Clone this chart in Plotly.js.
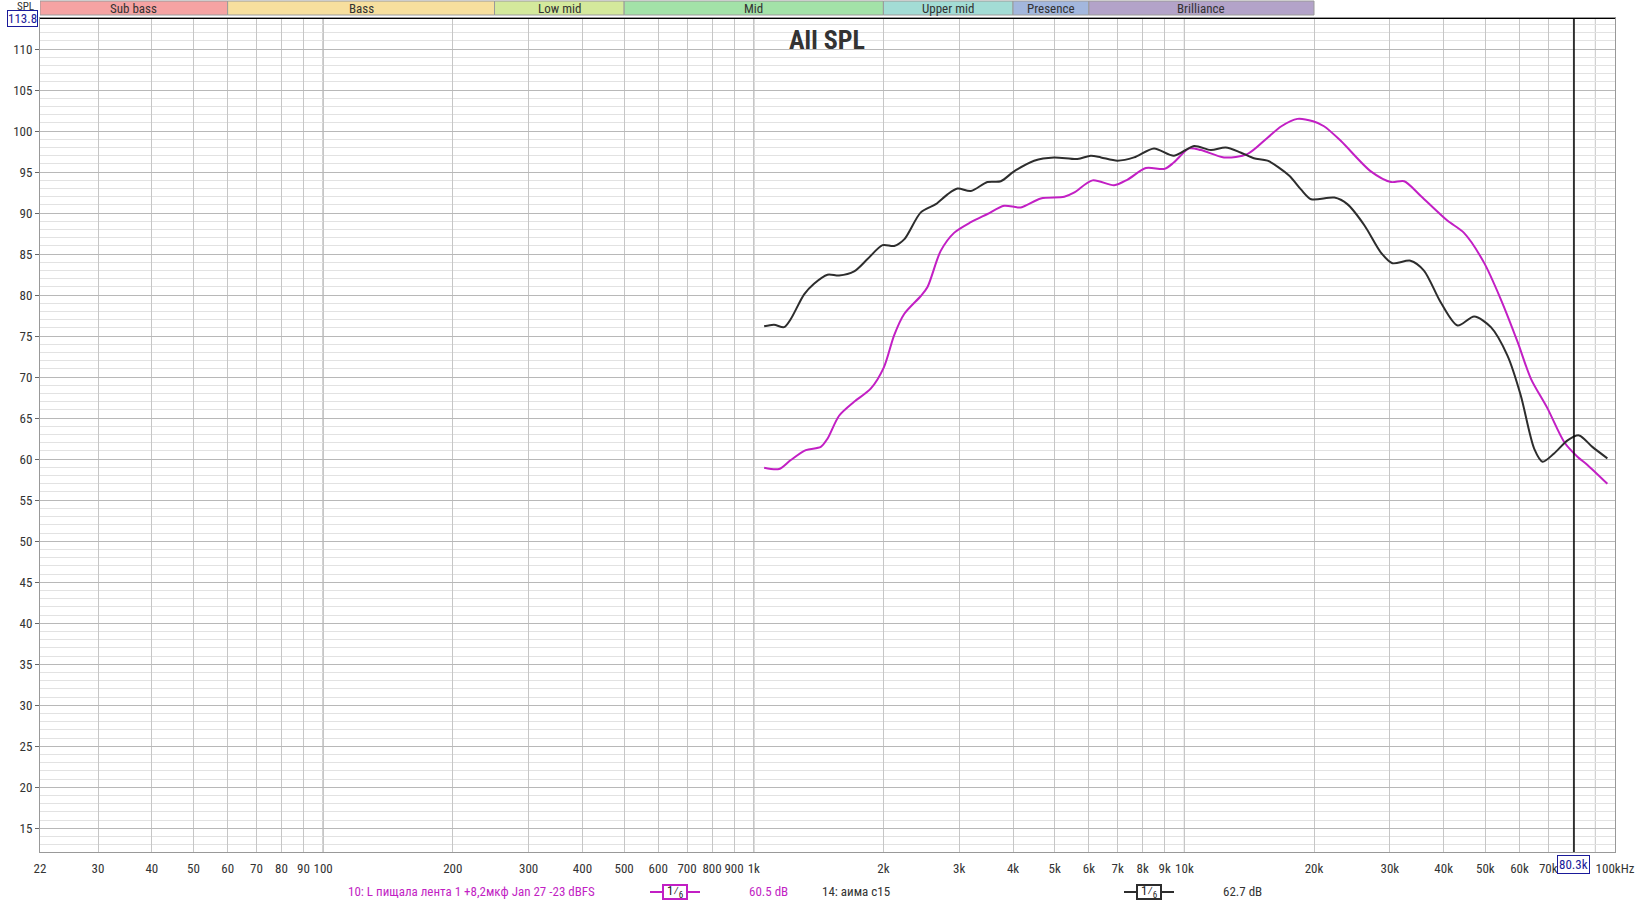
<!DOCTYPE html>
<html><head><meta charset="utf-8">
<script src="https://cdn.plot.ly/plotly-3.0.1.min.js"></script>
<style>html,body{margin:0;padding:0;background:#fff;} #chart{width:1635px;height:903px;}</style>
</head><body><div id="chart"></div>
<script>
// ---- data ----
const freqBlack = [1057,1114,1176,1219,1309,1380,1483,1578,1710,1837,1991,2118,2235,2443,2647,2818,2973,3192,3489,3747,4023,4477,4980,5645,6060,6400,6990,7640,8500,9460,10530,11520,12470,13500,14500,15600,17500,18650,19700,22300,23900,26200,28600,30400,33500,36000,39400,43100,47100,51500,56300,60400,64900,67900,72200,77600,82500,88600,96000];
const splBlack = [76.2,76.4,76.1,77.1,80.1,81.4,82.5,82.4,82.9,84.4,86.1,86.0,86.8,90.1,91.1,92.3,93.0,92.7,93.8,93.9,95.1,96.4,96.8,96.6,97.0,96.8,96.4,96.8,97.9,97.0,98.2,97.7,98.0,97.4,96.7,96.4,94.6,92.9,91.7,91.9,91.1,88.5,85.2,83.9,84.2,83.0,79.1,76.3,77.4,76.1,72.6,67.8,61.3,59.7,60.7,62.3,62.9,61.5,60.1];
const freqMagenta = [1057,1145,1219,1321,1431,1483,1578,1710,1869,2005,2118,2235,2443,2532,2717,2918,3192,3489,3813,4170,4640,5260,5540,6120,6870,7380,8140,9000,9460,10260,10920,12360,14000,15600,16800,18300,19900,21100,23100,27100,30200,32400,35400,40800,44600,49600,54300,59400,63800,69700,76200,81800,86300,96000];
const splMagenta = [58.95,58.8,59.9,61.1,61.5,62.5,65.3,67.0,68.6,71.2,75.1,77.7,79.9,81.0,85.4,87.6,88.9,89.9,90.9,90.7,91.8,92.0,92.5,94.0,93.4,94.1,95.5,95.4,96.2,97.9,97.7,96.8,97.2,99.2,100.6,101.5,101.2,100.6,98.8,95.1,93.8,93.9,92.1,89.1,87.6,84.0,79.5,74.3,69.8,66.2,62.1,60.3,59.3,57.0];
const bandNames = ['Sub bass','Bass','Low mid','Mid','Upper mid','Presence','Brilliance'];
const bandEdges = [22,60,250,500,2000,4000,6000,20000];
const bandColors = ['#f5a3a3','#f7df9e','#d4e99c','#a3e2a8','#a3dcd5','#a3b7dd','#b3a3c9'];
const xTickVals = [22,30,40,50,60,70,80,90,100,200,300,400,500,600,700,800,900,1000,2000,3000,4000,5000,6000,7000,8000,9000,10000,20000,30000,40000,50000,60000,70000,100000];
const xTickText = ['22','30','40','50','60','70','80','90','100','200','300','400','500','600','700','800','900','1k','2k','3k','4k','5k','6k','7k','8k','9k','10k','20k','30k','40k','50k','60k','70k','100kHz'];
const xGridOnly = [80000,90000];
const yTickVals = [15,20,25,30,35,40,45,50,55,60,65,70,75,80,85,90,95,100,105,110];
const decadeLines = [100,1000,10000];
const cursorFreq = 80300;
const cursorFreqLabel = '80.3k';
const cursorSPL = 113.8;
const cursorSPLLabel = '113.8';
const nameMagenta = '10: L пищала лента 1 +8,2мкф Jan 27 -23 dBFS';
const valueMagenta = '60.5 dB';
const nameBlack = '14: аима с15';
const valueBlack = '62.7 dB';
const smoothingLabel = '1⁄<sub>6</sub>';

// ---- layout helpers (pixels -> paper) ----
const W = 1635, H = 903;
const L = 40, R = 20, T = 18, B = 51;
const pw = W - L - R, ph = H - T - B;
const px = x => (x - L) / pw;
const py = y => 1 - (y - T) / ph;

const FONT = 'Liberation Sans Narrow, Roboto Condensed, DejaVu Sans Condensed, Roboto, sans-serif';
const MAG = '#c21fc4';
const BLK = '#2d2d2d';

const traces = [
  {x: freqMagenta, y: splMagenta, type: 'scatter', mode: 'lines', line: {color: MAG, width: 2, shape: 'spline', smoothing: 0.8}, hoverinfo: 'x+y'},
  {x: freqBlack, y: splBlack, type: 'scatter', mode: 'lines', line: {color: BLK, width: 2, shape: 'spline', smoothing: 0.8}, hoverinfo: 'x+y'}
];

const shapes = [];
const annotations = [];

// band bar
for (let i = 0; i < bandNames.length; i++) {
  shapes.push({type: 'rect', xref: 'x', yref: 'paper', x0: bandEdges[i], x1: bandEdges[i+1], y0: py(15), y1: py(1),
    fillcolor: bandColors[i], line: {color: '#9a9a9a', width: 1}, layer: 'above'});
  annotations.push({xref: 'x', yref: 'paper', x: Math.log10(Math.sqrt(bandEdges[i]*bandEdges[i+1])), y: py(8.5),
    text: bandNames[i], showarrow: false, xanchor: 'center', yanchor: 'middle', font: {family: FONT, size: 13, color: '#333'}});
}
// grid-only lines (no label)
xGridOnly.forEach(f => shapes.push({type: 'line', xref: 'x', yref: 'paper', x0: f, x1: f, y0: 0, y1: 1, line: {color: '#c6c6c6', width: 1}, layer: 'below'}));
// decade lines
decadeLines.forEach(f => shapes.push({type: 'line', xref: 'x', yref: 'paper', x0: f, x1: f, y0: 0, y1: 1, line: {color: '#7a7a7a', width: 1}, layer: 'below'}));
// cursor lines
shapes.push({type: 'line', xref: 'x', yref: 'paper', x0: cursorFreq, x1: cursorFreq, y0: 0, y1: 1, line: {color: '#000', width: 1.5}});
shapes.push({type: 'line', xref: 'paper', yref: 'y', x0: 0, x1: 1, y0: cursorSPL, y1: cursorSPL, line: {color: '#000', width: 2}});

// cursor labels
annotations.push({xref: 'x', yref: 'paper', x: Math.log10(cursorFreq), y: py(865), text: cursorFreqLabel, showarrow: false,
  xanchor: 'center', yanchor: 'middle', font: {family: FONT, size: 13, color: '#1a1a9a'}, bgcolor: '#fff', bordercolor: '#1a1a9a', borderwidth: 1, borderpad: 1});
annotations.push({xref: 'paper', yref: 'paper', x: px(38), y: py(18), text: cursorSPLLabel, showarrow: false,
  xanchor: 'right', yanchor: 'middle', font: {family: FONT, size: 13, color: '#1a1a9a'}, bgcolor: '#fff', bordercolor: '#1a1a9a', borderwidth: 1, borderpad: 0});
annotations.push({xref: 'paper', yref: 'paper', x: px(36), y: py(6), text: 'SPL', showarrow: false,
  xanchor: 'right', yanchor: 'middle', font: {family: FONT, size: 11, color: '#333'}});

// legend row
const LY = 892;
function legendText(x, text, color, anchor) {
  annotations.push({xref: 'paper', yref: 'paper', x: px(x), y: py(LY), text: text, showarrow: false,
    xanchor: anchor || 'left', yanchor: 'middle', font: {family: FONT, size: 13, color: color}});
}
function smoothBox(x0, x1, color) {
  const mid = (x0 + x1) / 2;
  shapes.push({type: 'line', xref: 'paper', yref: 'paper', x0: px(x0), x1: px(mid - 12), y0: py(LY), y1: py(LY), line: {color: color, width: 2}});
  shapes.push({type: 'line', xref: 'paper', yref: 'paper', x0: px(mid + 12), x1: px(x1), y0: py(LY), y1: py(LY), line: {color: color, width: 2}});
  shapes.push({type: 'rect', xref: 'paper', yref: 'paper', x0: px(mid - 12), x1: px(mid + 12), y0: py(LY + 7), y1: py(LY - 7), line: {color: color, width: 2}, fillcolor: '#fff'});
  annotations.push({xref: 'paper', yref: 'paper', x: px(mid), y: py(LY), text: smoothingLabel, showarrow: false,
    xanchor: 'center', yanchor: 'middle', font: {family: FONT, size: 13, color: '#222'}});
}
legendText(346, nameMagenta, MAG);
smoothBox(650, 700, MAG);
legendText(747, valueMagenta, MAG);
legendText(820, nameBlack, '#333');
smoothBox(1124, 1174, BLK);
legendText(1221, valueBlack, '#333');

const layout = {
  width: W, height: H,
  margin: {l: L, r: R, t: T, b: B, pad: 0},
  paper_bgcolor: '#fff', plot_bgcolor: '#fff',
  showlegend: false,
  font: {family: FONT, size: 13, color: '#333'},
  title: {text: 'All SPL', font: {family: FONT, size: 26, color: '#333', weight: 'bold'},
    x: 827 / W, xref: 'container', y: 1 - 40 / H, yref: 'container', xanchor: 'center', yanchor: 'middle'},
  xaxis: {type: 'log', range: [Math.log10(22), 5], tickvals: xTickVals, ticktext: xTickText, tickangle: 0,
    showgrid: true, gridcolor: '#c6c6c6', gridwidth: 1, zeroline: false,
    showline: true, linecolor: '#999', linewidth: 1, mirror: true, ticks: '', tickfont: {family: FONT, size: 13, color: '#333'}, ticklabelstandoff: 4},
  yaxis: {range: [12.1, 113.8], tickvals: yTickVals, showgrid: true, gridcolor: '#b8b8b8', gridwidth: 1, zeroline: false,
    minor: {dtick: 1, tick0: 0, showgrid: true, gridcolor: '#e2e2e2', gridwidth: 1, ticks: ''},
    showline: true, linecolor: '#999', linewidth: 1, mirror: true, ticks: 'outside', ticklen: 4, tickcolor: '#666',
    tickfont: {family: FONT, size: 13, color: '#333'}},
  shapes: shapes,
  annotations: annotations
};

Plotly.newPlot('chart', traces, layout, {displayModeBar: false, staticPlot: true});
</script>
</body></html>
